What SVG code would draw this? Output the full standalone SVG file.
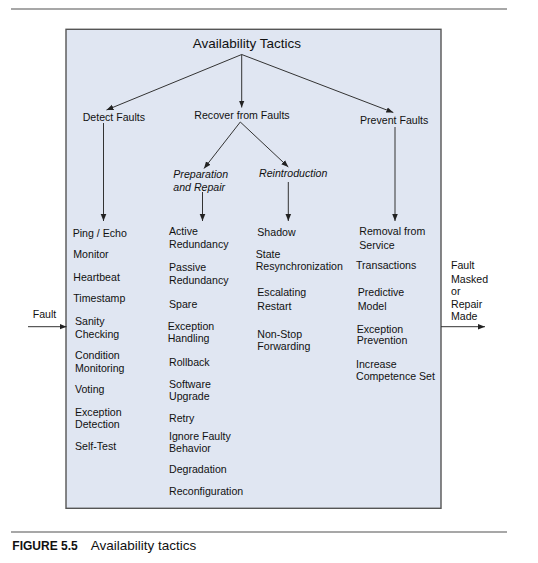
<svg xmlns="http://www.w3.org/2000/svg" width="538" height="563" viewBox="0 0 538 563">
<style>
text{font-family:"Liberation Sans",Arial,sans-serif;fill:#111;}
.t{font-size:10.6px;}
.i{font-size:10.6px;font-style:italic;}
.c{stroke:#333;stroke-width:1;fill:none;marker-end:url(#ah);}
.rule{stroke:#8a8a8a;stroke-width:1.6;}
</style>
<defs>
<marker id="ah" markerUnits="userSpaceOnUse" markerWidth="8" markerHeight="8" viewBox="0 0 8 8" refX="7" refY="4" orient="auto">
<path d="M0,1.2 L7,4 L0,6.8 Z" fill="#222"/>
</marker>
</defs>
<line class="rule" x1="11" y1="9" x2="507" y2="9"/>
<rect id="frame" x="66" y="29.3" width="375" height="479" fill="#e0e6f2" stroke="#555" stroke-width="1.4"/>
<g id="connectors">
<path class="c" d="M241.7,54.5 L106.5,110"/>
<path class="c" d="M241.7,54.5 L241.7,107.5"/>
<path class="c" d="M241.7,54.5 L393.3,112.5"/>
<path class="c" d="M240.3,122 L204,168.5"/>
<path class="c" d="M240.3,122 L288.3,167"/>
<path class="c" d="M103.5,123 L103.5,221"/>
<path class="c" d="M202.5,192 L202.5,221"/>
<path class="c" d="M288.3,182 L288.3,221"/>
<path class="c" d="M395,127 L395,221"/>
<path class="c" d="M28,326.7 L66.5,326.7"/>
<path class="c" d="M441,326.7 L485,326.7"/>
</g>
<g id="root"><text x="192.7" y="48" style="font-size:13.5px">Availability Tactics</text></g>
<g id="detect"><text class="t" x="82.7" y="120.5">Detect Faults</text></g>
<g id="recover"><text class="t" x="194.3" y="119">Recover from Faults</text></g>
<g id="prevent"><text class="t" x="360" y="123.5">Prevent Faults</text></g>
<g id="prep"><text class="i" x="173.3" y="177.5">Preparation</text><text class="i" x="173.3" y="191">and Repair</text></g>
<g id="reintro"><text class="i" x="259" y="177">Reintroduction</text></g>
<g id="detect-list">
<text class="t" x="72.7" y="236.5">Ping / Echo</text>
<text class="t" x="73.3" y="258">Monitor</text>
<text class="t" x="73.3" y="280.5">Heartbeat</text>
<text class="t" x="73.3" y="302">Timestamp</text>
<text class="t" x="75" y="325">Sanity</text>
<text class="t" x="75" y="338">Checking</text>
<text class="t" x="75" y="359">Condition</text>
<text class="t" x="75" y="372">Monitoring</text>
<text class="t" x="75" y="393">Voting</text>
<text class="t" x="75" y="416">Exception</text>
<text class="t" x="75" y="428">Detection</text>
<text class="t" x="75" y="450">Self-Test</text>
</g>
<g id="prep-list">
<text class="t" x="169" y="235">Active</text>
<text class="t" x="169" y="248">Redundancy</text>
<text class="t" x="169" y="271">Passive</text>
<text class="t" x="169" y="284">Redundancy</text>
<text class="t" x="169" y="308">Spare</text>
<text class="t" x="167.7" y="329.5">Exception</text>
<text class="t" x="167.7" y="342">Handling</text>
<text class="t" x="169" y="366">Rollback</text>
<text class="t" x="169" y="387.5">Software</text>
<text class="t" x="169" y="399.5">Upgrade</text>
<text class="t" x="169" y="421.5">Retry</text>
<text class="t" x="169" y="439.5">Ignore Faulty</text>
<text class="t" x="169" y="452">Behavior</text>
<text class="t" x="169" y="473">Degradation</text>
<text class="t" x="169" y="495">Reconfiguration</text>
</g>
<g id="reintro-list">
<text class="t" x="257.3" y="236">Shadow</text>
<text class="t" x="255.7" y="257.5">State</text>
<text class="t" x="255.7" y="270">Resynchronization</text>
<text class="t" x="257.3" y="296">Escalating</text>
<text class="t" x="257.3" y="309.5">Restart</text>
<text class="t" x="257.3" y="337.5">Non-Stop</text>
<text class="t" x="257.3" y="350">Forwarding</text>
</g>
<g id="prevent-list">
<text class="t" x="359.3" y="235">Removal from</text>
<text class="t" x="359.3" y="248.5">Service</text>
<text class="t" x="356" y="269">Transactions</text>
<text class="t" x="357.7" y="296">Predictive</text>
<text class="t" x="357.7" y="309.5">Model</text>
<text class="t" x="356.7" y="332.5">Exception</text>
<text class="t" x="356.7" y="344">Prevention</text>
<text class="t" x="356" y="367.5">Increase</text>
<text class="t" x="356" y="380">Competence Set</text>
</g>
<g id="fault-in"><text class="t" x="32.7" y="318">Fault</text></g>
<g id="fault-out">
<text class="t" x="451" y="269">Fault</text>
<text class="t" x="451" y="282.5">Masked</text>
<text class="t" x="451" y="295">or</text>
<text class="t" x="451" y="307.5">Repair</text>
<text class="t" x="451" y="320">Made</text>
</g>
<line class="rule" x1="11" y1="532" x2="507" y2="532"/>
<g id="caption">
<text x="12.3" y="549.5" style="font-size:12px;font-weight:bold">FIGURE 5.5</text>
<text x="90.7" y="549.5" style="font-size:13.5px">Availability tactics</text>
</g>
</svg>
